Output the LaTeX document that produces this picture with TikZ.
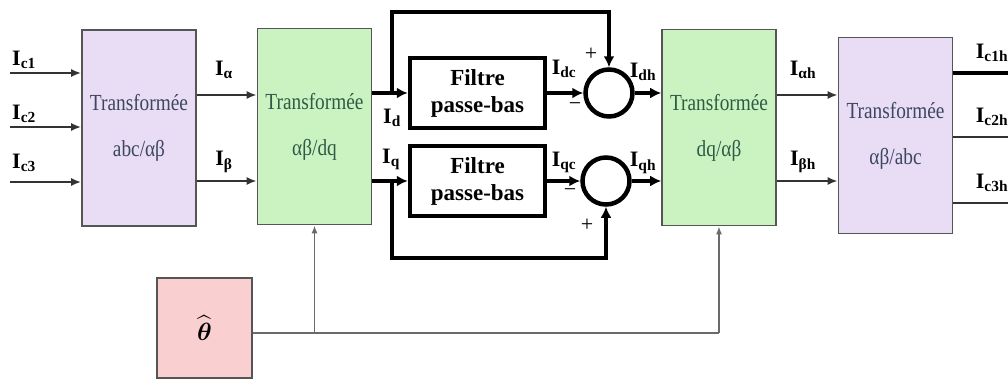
\documentclass[tikz,border=0pt]{standalone}
\usepackage{fontspec}
\setmainfont{Liberation Serif}
\newfontfamily\boxfont[FakeStretch=0.84]{Liberation Serif}
\usepackage{amsmath}
\usetikzlibrary{positioning, arrows.meta, calc}
\definecolor{tfviolet}{HTML}{E9DDF5}
\definecolor{tfgreen}{HTML}{CBF3C2}
\definecolor{thpink}{HTML}{F9CFCF}
\definecolor{tfborder}{HTML}{555555}
\definecolor{tftextv}{HTML}{3C4660}
\definecolor{tftextg}{HTML}{2F5A45}
\definecolor{linegray}{HTML}{333333}
\definecolor{thgray}{HTML}{6A6A6A}

\begin{document}
\begin{tikzpicture}[x=1pt, y=-1pt,
    tb/.style={draw=tfborder, line width=1.6pt, minimum width=114pt, minimum height=196pt, align=center, inner sep=0pt, font=\boxfont\fontsize{23}{46}\selectfont},
    fb/.style={draw=black, line width=4.5pt, fill=white, minimum width=135pt, minimum height=70pt, align=center, font=\bfseries\fontsize{23}{27}\selectfont},
    sm/.style={circle, draw=black, line width=4.5pt, minimum size=47pt, inner sep=0pt},
    ar/.style={-{Latex[length=10pt,width=8pt]}, line width=2.6pt, draw=linegray},
    fa/.style={-{Latex[length=11pt,width=11pt]}, line width=4.5pt},
    ta/.style={-{Latex[length=8pt,width=6pt]}, line width=1.8pt, draw=thgray},
    lb/.style={font=\bfseries\fontsize{22}{22}\selectfont, inner sep=0pt},
    sg/.style={font=\fontsize{22}{22}\selectfont, inner sep=0pt}]
  \useasboundingbox (0,0) rectangle (1008,380);

  \node[tb, fill=tfviolet, text=tftextv] (abcab) at (139,128) {Transformée\\abc/αβ};
  \node[tb, fill=tfgreen, text=tftextg] (abdq) at (314.5,126.5) {Transformée\\αβ/dq};
  \node[tb, fill=tfgreen, text=tftextg] (dqab) at (719,127.5) {Transformée\\dq/αβ};
  \node[tb, fill=tfviolet, text=tftextv] (ababc) at (895.5,135.5) {Transformée\\αβ/abc};
  \node[fb] (fd) at (477.5,93) {Filtre\\passe-bas};
  \node[fb, below=13.5pt of fd] (fq) {Filtre\\passe-bas};
  \node[sm] (sd) at (609,93) {};
  \node[sm] (sq) at (606,181) {};
  \node[draw=tfborder, fill=thpink, line width=1.6pt, minimum width=95pt, minimum height=100pt, font=\fontsize{30}{30}\selectfont] (th) at (204.5,328) {$\widehat{\boldsymbol{\theta}}$};

  \coordinate (in1) at (10,73);
  \coordinate (in2) at (10,127);
  \coordinate (in3) at (10,182);
  \coordinate (ra) at (0,95);
  \coordinate (rb) at (0,181);
  \coordinate (jd) at (392,0);
  \coordinate (top) at (0,12);
  \coordinate (bot) at (0,258);
  \coordinate (rt) at (0,333);
  \coordinate (o1) at (1008,73);
  \coordinate (o2) at (1008,137);
  \coordinate (o3) at (1008,203);

  \draw[ar] (in1) -- (in1 -| abcab.west);
  \draw[ar] (in2) -- (in2 -| abcab.west);
  \draw[ar] (in3) -- (in3 -| abcab.west);
  \draw[ar] (abcab.east |- ra) -- (abdq.west |- ra);
  \draw[ar] (abcab.east |- rb) -- (abdq.west |- rb);
  \draw[fa] (abdq.east |- fd) -- (fd.west);
  \draw[fa] (abdq.east |- fq) -- (fq.west);
  \draw[fa] (jd |- fd) -- (jd |- top) -| (sd.north);
  \draw[fa] (jd |- fq) -- (jd |- bot) -| (sq.south);
  \draw[fa] (fd.east) -- (sd.west);
  \draw[fa] (fq.east) -- (sq.west);
  \draw[fa] (sd.east) -- (sd.east -| dqab.west);
  \draw[fa] (sq.east) -- (sq.east -| dqab.west);
  \draw[ar] (dqab.east |- ra) -- (ababc.west |- ra);
  \draw[ar] (dqab.east |- rb) -- (ababc.west |- rb);
  \draw[line width=4.5pt] (ababc.east |- o1) -- (o1);
  \draw[line width=2.4pt, draw=linegray] (ababc.east |- o2) -- (o2);
  \draw[line width=2.4pt, draw=linegray] (ababc.east |- o3) -- (o3);
  \draw[line width=1.8pt, draw=thgray] (th.east |- rt) -- (dqab.south |- rt);
  \draw[ta] (abdq.south |- rt) -- (abdq.south);
  \draw[ta] (dqab.south |- rt) -- (dqab.south);

  \node[lb] (lc1) at (24,60) {I\textsubscript{c1}};
  \node[lb] (lc2) at (24,114) {I\textsubscript{c2}};
  \node[lb] (lc3) at (24,163) {I\textsubscript{c3}};
  \node[lb] (la) at (224,70) {I\textsubscript{α}};
  \node[lb] (lb) at (224,162) {I\textsubscript{β}};
  \node[lb] (ld) at (392,118) {I\textsubscript{d}};
  \node[lb] (lq) at (391,159) {I\textsubscript{q}};
  \node[lb] (ldc) at (564,69) {I\textsubscript{dc}};
  \node[lb] (ldh) at (643,72) {I\textsubscript{dh}};
  \node[lb] (lqc) at (564,162) {I\textsubscript{qc}};
  \node[lb] (lqh) at (643,163) {I\textsubscript{qh}};
  \node[lb] (lah) at (803,70) {I\textsubscript{αh}};
  \node[lb] (lbh) at (803,162) {I\textsubscript{βh}};
  \node[lb] (lc1h) at (992,53) {I\textsubscript{c1h}};
  \node[lb] (lc2h) at (992,117) {I\textsubscript{c2h}};
  \node[lb] (lc3h) at (992,183) {I\textsubscript{c3h}};
  \node[sg] (pd) at (591,54) {+};
  \node[sg] (md) at (575,107) {−};
  \node[sg] (mq) at (570,193) {−};
  \node[sg] (pq) at (587,225) {+};
\end{tikzpicture}
\end{document}
